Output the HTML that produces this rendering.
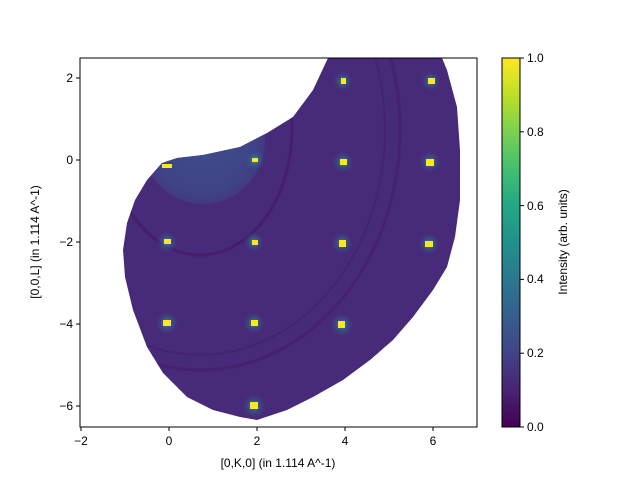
<!DOCTYPE html>
<html><head><meta charset="utf-8"><style>
html,body{margin:0;padding:0;background:#fff;}
svg{display:block;font-family:"Liberation Sans","DejaVu Sans",sans-serif;}
</style></head><body>
<svg width="640" height="480" viewBox="0 0 640 480" xmlns="http://www.w3.org/2000/svg">
<defs>
<clipPath id="cp"><polygon points="328,58 442,58 447,70 457,107 460,150 460,200 455,237 447,267 433,290 413,317 393,340 370,360 343,380 313,397 287,410 257,420 240,417 213,410 187,397 163,373 147,347 133,310 125,277 123,250 127,223 135,200 147,180 162,163 177,158 203,155 240,147 267,133 293,117 313,90"/></clipPath>
<linearGradient id="vir" x1="0" y1="1" x2="0" y2="0">
<stop offset="0" stop-color="#440154"/><stop offset="0.1" stop-color="#482475"/><stop offset="0.2" stop-color="#414487"/><stop offset="0.3" stop-color="#355f8d"/><stop offset="0.4" stop-color="#2a788e"/><stop offset="0.5" stop-color="#21918c"/><stop offset="0.6" stop-color="#22a884"/><stop offset="0.7" stop-color="#44bf70"/><stop offset="0.8" stop-color="#7ad151"/><stop offset="0.9" stop-color="#bddf26"/><stop offset="1" stop-color="#fde725"/>
</linearGradient>
<radialGradient id="glow"><stop offset="0" stop-color="#22a884" stop-opacity="0.9"/><stop offset="0.5" stop-color="#2a788e" stop-opacity="0.4"/><stop offset="1" stop-color="#3b528b" stop-opacity="0"/></radialGradient>
<radialGradient id="light"><stop offset="0" stop-color="#3e4d8a"/><stop offset="0.8" stop-color="#3f4488"/><stop offset="1" stop-color="#423a83"/></radialGradient>
</defs>
<g clip-path="url(#cp)">
<rect x="80" y="58" width="397" height="369" fill="#472a79"/>
<ellipse cx="203" cy="140" rx="62" ry="64" fill="url(#light)"/>
<ellipse cx="200" cy="130" rx="92" ry="125" fill="none" stroke="#44135f" stroke-width="3" opacity="0.5"/>
<ellipse cx="200" cy="130" rx="200" ry="240" fill="none" stroke="#44135f" stroke-width="3" opacity="0.4"/>
<ellipse cx="200" cy="130" rx="185" ry="225" fill="none" stroke="#44135f" stroke-width="2" opacity="0.3"/>
</g>
<g>
<circle cx="255" cy="160" r="10" fill="url(#glow)"/><rect x="252" y="158" width="6" height="4" fill="#fde725"/>
<circle cx="343" cy="162" r="11" fill="url(#glow)"/><rect x="340" y="159" width="7" height="6" fill="#fde725"/>
<circle cx="430" cy="162" r="11" fill="url(#glow)"/><rect x="426" y="159" width="8" height="7" fill="#fde725"/>
<circle cx="343" cy="81" r="10" fill="url(#glow)"/><rect x="341" y="78" width="5" height="6" fill="#fde725"/>
<circle cx="431" cy="81" r="10" fill="url(#glow)"/><rect x="428" y="78" width="7" height="6" fill="#fde725"/>
<circle cx="167" cy="242" r="11" fill="url(#glow)"/><rect x="164" y="239" width="7" height="5" fill="#fde725"/>
<circle cx="254" cy="242" r="10" fill="url(#glow)"/><rect x="252" y="240" width="6" height="5" fill="#fde725"/>
<circle cx="342" cy="243" r="11" fill="url(#glow)"/><rect x="339" y="240" width="7" height="7" fill="#fde725"/>
<circle cx="429" cy="244" r="11" fill="url(#glow)"/><rect x="425" y="241" width="8" height="6" fill="#fde725"/>
<circle cx="167" cy="323" r="12" fill="url(#glow)"/><rect x="163" y="320" width="8" height="6" fill="#fde725"/>
<circle cx="254" cy="323" r="11" fill="url(#glow)"/><rect x="251" y="320" width="7" height="6" fill="#fde725"/>
<circle cx="342" cy="325" r="12" fill="url(#glow)"/><rect x="338" y="321" width="7" height="7" fill="#fde725"/>
<circle cx="254" cy="406" r="12" fill="url(#glow)"/><rect x="250" y="402" width="8" height="7" fill="#fde725"/>
<rect x="162" y="164" width="10" height="4" fill="#fde725"/>
</g>
<rect x="80" y="58" width="397" height="369" fill="none" stroke="#000" stroke-width="1"/>
<g stroke="#000" stroke-width="1">
<line x1="81" y1="427" x2="81" y2="431"/><line x1="169" y1="427" x2="169" y2="431"/><line x1="257" y1="427" x2="257" y2="431"/><line x1="345" y1="427" x2="345" y2="431"/><line x1="433" y1="427" x2="433" y2="431"/>
<line x1="76" y1="78" x2="80" y2="78"/><line x1="76" y1="160" x2="80" y2="160"/><line x1="76" y1="242" x2="80" y2="242"/><line x1="76" y1="324" x2="80" y2="324"/><line x1="76" y1="406" x2="80" y2="406"/>
</g>
<g font-size="12" fill="#000" text-anchor="middle">
<text x="81" y="445">−2</text><text x="169" y="445">0</text><text x="257" y="445">2</text><text x="345" y="445">4</text><text x="433" y="445">6</text>
</g>
<g font-size="12" fill="#000" text-anchor="end">
<text x="73" y="82">2</text><text x="73" y="164">0</text><text x="73" y="246">−2</text><text x="73" y="328">−4</text><text x="73" y="410">−6</text>
</g>
<text x="278" y="467" font-size="12" text-anchor="middle">[0,K,0] (in 1.114 A^-1)</text>
<text transform="translate(39,242) rotate(-90)" font-size="12" text-anchor="middle">[0,0,L] (in 1.114 A^-1)</text>
<rect x="502" y="58" width="18" height="369" fill="url(#vir)" stroke="#000" stroke-width="1"/>
<g stroke="#000"><line x1="520" y1="58" x2="524" y2="58"/><line x1="520" y1="131.8" x2="524" y2="131.8"/><line x1="520" y1="205.6" x2="524" y2="205.6"/><line x1="520" y1="279.4" x2="524" y2="279.4"/><line x1="520" y1="353.2" x2="524" y2="353.2"/><line x1="520" y1="427" x2="524" y2="427"/></g>
<g font-size="12" fill="#000">
<text x="527" y="62">1.0</text><text x="527" y="136">0.8</text><text x="527" y="210">0.6</text><text x="527" y="283">0.4</text><text x="527" y="357">0.2</text><text x="527" y="431">0.0</text>
</g>
<text transform="translate(567,242) rotate(-90)" font-size="12" text-anchor="middle">Intensity (arb. units)</text>
</svg>
</body></html>
